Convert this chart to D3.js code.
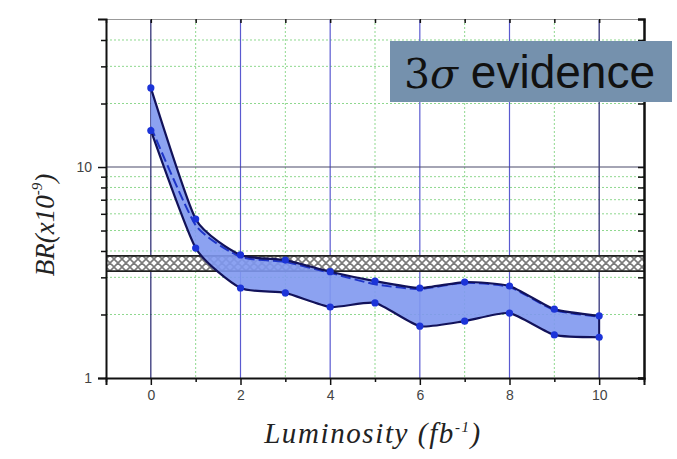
<!DOCTYPE html>
<html>
  <head>
    <meta charset="utf-8">
    <title>BR vs Luminosity</title>
    <script src="https://cdn.jsdelivr.net/npm/d3@7"></script>
    <style>
      body { margin: 0; background: #fff; }
      svg { display: block; }
      .tick text { font-family: "Liberation Sans", Arial, sans-serif; font-size: 14px; fill: #444; }
    </style>
  </head>
  <body>
    <script>
    // luminosity points (fb^-1)
    const lumi = [0, 1, 2, 3, 4, 5, 6, 7, 8, 9, 10];
    // upper / lower edges of the band, BR in units of 1e-9
    const upperBR = [23.7, 5.67, 3.83, 3.62, 3.19, 2.88, 2.67, 2.85, 2.73, 2.12, 1.97];
    const lowerBR = [14.9, 4.13, 2.67, 2.53, 2.17, 2.27, 1.76, 1.86, 2.03, 1.60, 1.56];
    const midBR   = [15.5, 5.3, 3.75, 3.55, 3.15, 2.78, 2.64, 2.83, 2.70, 2.10, 1.95];
    // measured band (hatched)
    const measBand = [3.21, 3.79];
    const xTicks = [0, 2, 4, 6, 8, 10];
    const xMinor = [-1, 1, 3, 5, 7, 9, 11];
    const yTicks = [1, 10];
    const yMinor = [2, 3, 4, 5, 6, 7, 8, 9, 20, 30, 40];

    const W = 677, H = 459;
    const margin = {top: 19, right: 33, bottom: 81, left: 106};
    const width = W - margin.left - margin.right,
          height = H - margin.top - margin.bottom;

    const svg = d3.select('body').append('svg')
      .attr('width', W).attr('height', H);

    const defs = svg.append('defs');
    const pat = defs.append('pattern')
      .attr('id', 'hatch').attr('patternUnits', 'userSpaceOnUse')
      .attr('width', 8).attr('height', 8);
    pat.append('rect').attr('width', 8).attr('height', 8).attr('fill', '#fff');
    pat.append('path').attr('d', 'M0,0L8,8M8,0L0,8M-4,4L4,-4M4,12L12,4M-4,4L4,12M4,-4L12,4')
      .attr('stroke', '#7a7a7a').attr('stroke-width', 1.6);

    const g = svg.append('g')
      .attr('transform', 'translate(' + margin.left + ',' + margin.top + ')');

    const x = d3.scaleLinear().domain([-1, 11]).range([0, width]);
    const y = d3.scaleLog().domain([1, 50.3]).range([height, 0]);

    // grid
    g.selectAll('.hgrid').data(yMinor).enter().append('line')
      .attr('x1', 0).attr('x2', width)
      .attr('y1', d => y(d)).attr('y2', d => y(d))
      .attr('stroke', '#8fd88f').attr('stroke-width', 1).attr('stroke-dasharray', '2,2');
    g.selectAll('.vgrid').data(xMinor.filter(d => d > -1 && d < 11)).enter().append('line')
      .attr('x1', d => x(d)).attr('x2', d => x(d))
      .attr('y1', 0).attr('y2', height)
      .attr('stroke', '#8fd88f').attr('stroke-width', 1).attr('stroke-dasharray', '2,2');
    g.selectAll('.vmaj').data(xTicks).enter().append('line')
      .attr('x1', d => x(d)).attr('x2', d => x(d))
      .attr('y1', 0).attr('y2', height)
      .attr('stroke', d => d === 0 || d === 10 ? '#23236e' : '#5a5ad0').attr('stroke-width', 1.2);
    g.append('line')
      .attr('x1', 0).attr('x2', width).attr('y1', y(10)).attr('y2', y(10))
      .attr('stroke', '#4a4a6a').attr('stroke-width', 1.2);

    // hatched measurement band
    g.append('rect')
      .attr('x', 0).attr('width', width)
      .attr('y', y(measBand[1])).attr('height', y(measBand[0]) - y(measBand[1]))
      .attr('fill', 'url(#hatch)').attr('stroke', 'none');
    measBand.forEach(v => {
      g.append('line').attr('x1', 0).attr('x2', width)
        .attr('y1', y(v)).attr('y2', y(v))
        .attr('stroke', '#222').attr('stroke-width', 1.8);
    });

    // band between upper and lower
    const data = lumi.map((l, i) => ({l: l, hi: upperBR[i], lo: lowerBR[i], mid: midBR[i]}));
    const curve = d3.curveCardinal.tension(0.45);
    const area = d3.area().curve(curve)
      .x(d => x(d.l)).y0(d => y(d.lo)).y1(d => y(d.hi));
    g.append('path').datum(data).attr('d', area)
      .attr('fill', '#7f98f0').attr('fill-opacity', 0.9);

    const lineHi = d3.line().curve(curve).x(d => x(d.l)).y(d => y(d.hi));
    const lineLo = d3.line().curve(curve).x(d => x(d.l)).y(d => y(d.lo));
    const lineMid = d3.line().curve(curve).x(d => x(d.l)).y(d => y(d.mid));
    g.append('path').datum(data).attr('d', lineMid)
      .attr('fill', 'none').attr('stroke', '#1f35c8').attr('stroke-width', 2)
      .attr('stroke-dasharray', '10,4');
    [lineHi, lineLo].forEach(ln => {
      g.append('path').datum(data).attr('d', ln)
        .attr('fill', 'none').attr('stroke', '#12125a').attr('stroke-width', 2.2);
    });
    // right-hand closing edge
    g.append('line')
      .attr('x1', x(10)).attr('x2', x(10))
      .attr('y1', y(upperBR[10])).attr('y2', y(lowerBR[10]))
      .attr('stroke', '#12125a').attr('stroke-width', 2);

    g.selectAll('.dotHi').data(data).enter().append('circle')
      .attr('cx', d => x(d.l)).attr('cy', d => y(d.hi)).attr('r', 3.6)
      .attr('fill', '#1c34d8');
    g.selectAll('.dotLo').data(data).enter().append('circle')
      .attr('cx', d => x(d.l)).attr('cy', d => y(d.lo)).attr('r', 3.6)
      .attr('fill', '#1c34d8');

    // axes
    const fmt = d3.format('d');
    g.append('g').attr('transform', 'translate(0,' + height + ')')
      .call(d3.axisBottom(x).tickValues(xTicks).tickSize(7).tickPadding(5).tickFormat(fmt))
      .call(a => a.select('.domain').attr('stroke', '#111').attr('stroke-width', 2));
    g.append('g').attr('transform', 'translate(0,' + height + ')')
      .call(d3.axisBottom(x).tickValues(xMinor).tickSize(4).tickFormat(''))
      .call(a => a.select('.domain').remove());
    g.append('g')
      .call(d3.axisTop(x).tickValues(xTicks.concat(xMinor)).tickSize(-4).tickFormat(''))
      .call(a => a.select('.domain').attr('stroke', '#999').attr('stroke-width', 1));

    g.append('g')
      .call(d3.axisLeft(y).tickValues(yTicks).tickSize(8).tickPadding(6).tickFormat(fmt))
      .call(a => a.select('.domain').attr('stroke', '#111').attr('stroke-width', 2));
    g.append('g')
      .call(d3.axisLeft(y).tickValues(yMinor).tickSize(5).tickFormat(''))
      .call(a => a.select('.domain').remove());
    g.append('g').attr('transform', 'translate(' + width + ',0)')
      .call(d3.axisRight(y).tickValues(yTicks.concat(yMinor)).tickSize(-6).tickFormat(''))
      .call(a => a.select('.domain').attr('stroke', '#111').attr('stroke-width', 2.5));
    g.selectAll('.tick line').attr('stroke', '#111').attr('stroke-width', 1.5);

    // axis titles
    const xt = svg.append('text')
      .attr('x', 373).attr('y', 443)
      .attr('text-anchor', 'middle')
      .style('font-family', '"Liberation Serif", "Times New Roman", serif')
      .style('font-style', 'italic').style('font-size', '29px')
      .style('letter-spacing', '1.6px').attr('fill', '#222');
    xt.append('tspan').text('Luminosity (fb');
    xt.append('tspan').attr('dy', -11).style('font-size', '15px').text('-1');
    xt.append('tspan').attr('dy', 11).text(')');

    const yt = svg.append('text')
      .attr('transform', 'translate(54,225) rotate(-90)')
      .attr('text-anchor', 'middle')
      .style('font-family', '"Liberation Serif", "Times New Roman", serif')
      .style('font-style', 'italic').style('font-size', '27px').attr('fill', '#222');
    yt.append('tspan').text('BR(x10');
    yt.append('tspan').attr('dy', -12).style('font-size', '15px').text('-9');
    yt.append('tspan').attr('dy', 12).text(')');

    // label box
    svg.append('rect')
      .attr('x', 390).attr('y', 41).attr('width', 282).attr('height', 61)
      .attr('fill', '#7591ad');
    const lab = svg.append('text').attr('x', 404).attr('y', 88)
      .style('font-size', '46px').attr('fill', '#111');
    lab.append('tspan').style('font-family', '"DejaVu Serif", serif').style('font-size', '41px').text('3');
    lab.append('tspan').style('font-family', '"DejaVu Serif", serif').style('font-style', 'italic').style('font-size', '41px').text('σ');
    lab.append('tspan').style('font-family', '"Liberation Sans", Arial, sans-serif').text(' evidence');
    </script>
  </body>
</html>
